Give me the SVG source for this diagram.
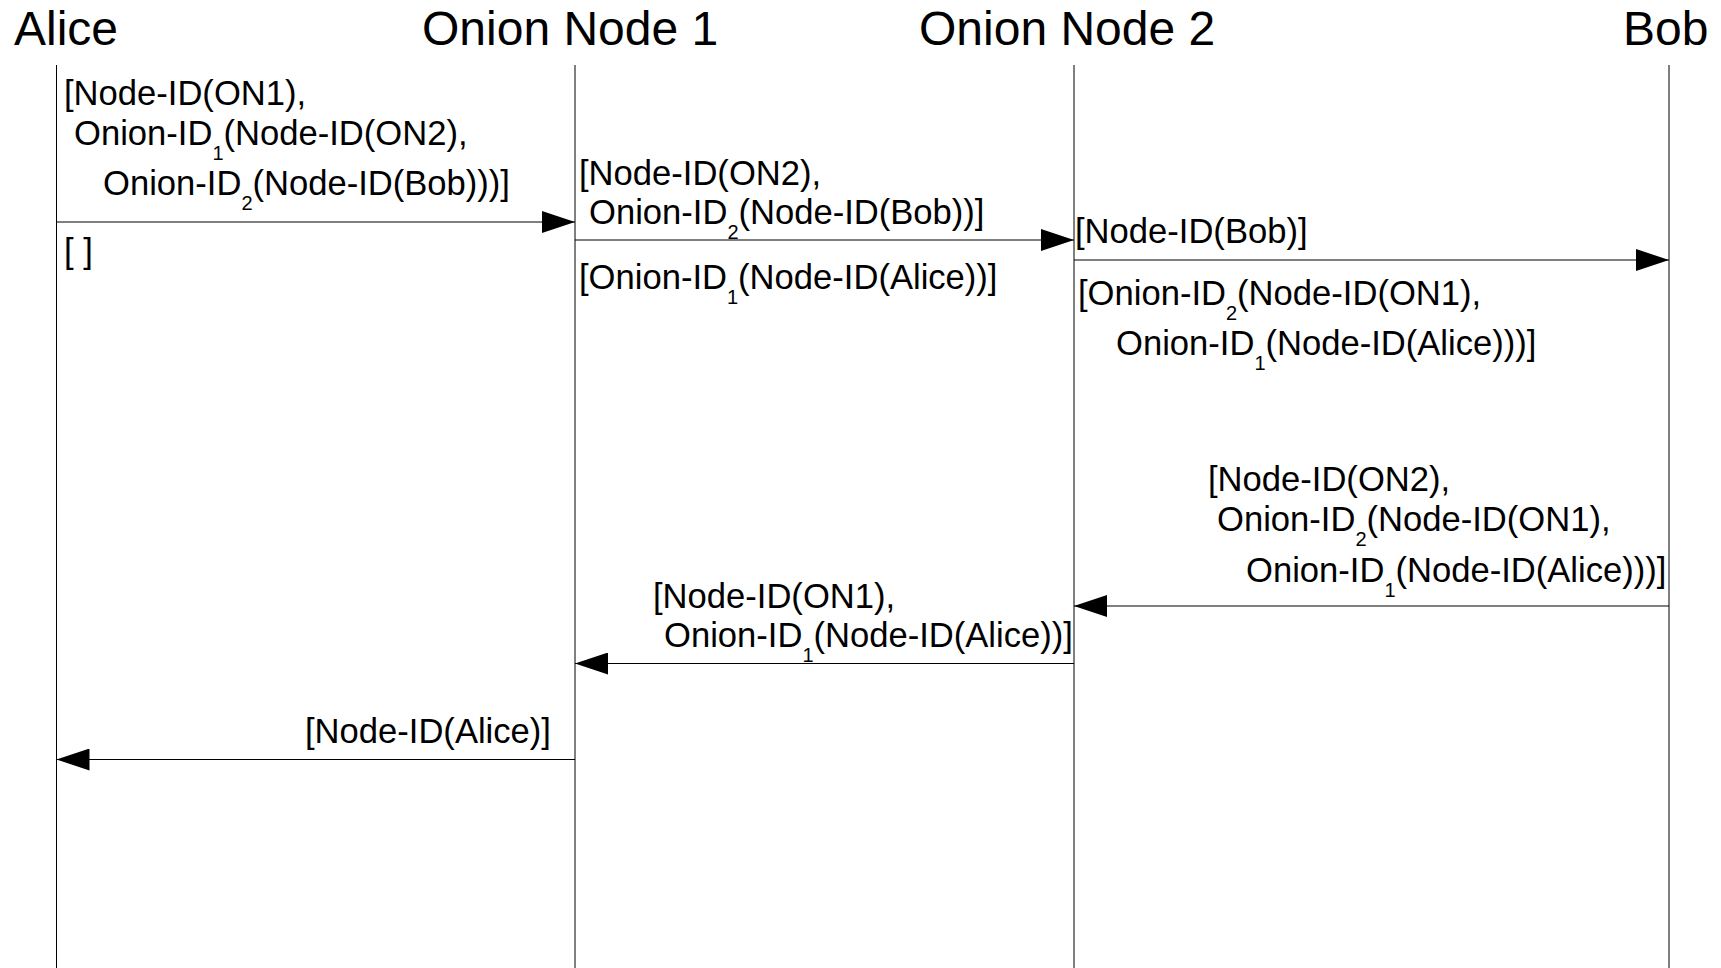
<svg xmlns="http://www.w3.org/2000/svg" width="1721" height="968" viewBox="0 0 1721 968">
<style>
.hdr{font-family:"Liberation Sans",Arial,sans-serif;font-size:48px;fill:#000}
.lbl{font-family:"Liberation Sans",Arial,sans-serif;font-size:34.6px;fill:#000}
.sub{font-size:20px}
.life{stroke:#000;stroke-width:1;fill:none}
.msg{stroke:#000;stroke-width:1;fill:none;marker-end:url(#ah)}
</style>
<defs>
<marker id="ah" markerUnits="userSpaceOnUse" markerWidth="34" markerHeight="22" refX="33" refY="11" orient="auto" viewBox="0 0 34 22">
<path d="M0,0 L33,11 L0,22 z" fill="#000"/>
</marker>
</defs>
<rect width="1721" height="968" fill="#fff"/>
<g id="alice">
<line class="life" x1="56.5" y1="65" x2="56.5" y2="968"/>
<text class="hdr" x="14" y="45">Alice</text>
</g>
<g id="onion-node-1">
<line class="life" x1="575" y1="65" x2="575" y2="968"/>
<text class="hdr" x="422" y="45">Onion Node 1</text>
</g>
<g id="onion-node-2">
<line class="life" x1="1074" y1="65" x2="1074" y2="968"/>
<text class="hdr" x="919" y="45">Onion Node 2</text>
</g>
<g id="bob">
<line class="life" x1="1669" y1="65" x2="1669" y2="968"/>
<text class="hdr" x="1623" y="45">Bob</text>
</g>
<g id="connectors">
<line class="msg" x1="56.5" y1="222" x2="575" y2="222"/>
<line class="msg" x1="575" y1="240" x2="1074" y2="240"/>
<line class="msg" x1="1074" y1="260" x2="1669" y2="260"/>
<line class="msg" x1="1669" y1="606" x2="1074" y2="606"/>
<line class="msg" x1="1074" y1="663.5" x2="575" y2="663.5"/>
<line class="msg" x1="575" y1="759.5" x2="56.5" y2="759.5"/>
</g>
<g id="labels">
<g id="m1">
<text class="lbl" x="64" y="105">[Node-ID(ON1),</text>
<text class="lbl" x="74" y="145">Onion-ID<tspan class="sub" dy="15">1</tspan><tspan dy="-15">(Node-ID(ON2),</tspan></text>
<text class="lbl" x="103" y="195">Onion-ID<tspan class="sub" dy="15">2</tspan><tspan dy="-15">(Node-ID(Bob)))]</tspan></text>
<text class="lbl" x="64" y="263">[ ]</text>
</g>
<g id="m2">
<text class="lbl" x="579" y="185">[Node-ID(ON2),</text>
<text class="lbl" x="589" y="224">Onion-ID<tspan class="sub" dy="15">2</tspan><tspan dy="-15">(Node-ID(Bob))]</tspan></text>
<text class="lbl" x="579" y="289">[Onion-ID<tspan class="sub" dy="15">1</tspan><tspan dy="-15">(Node-ID(Alice))]</tspan></text>
</g>
<g id="m3">
<text class="lbl" x="1075" y="243">[Node-ID(Bob)]</text>
<text class="lbl" x="1078" y="305">[Onion-ID<tspan class="sub" dy="15">2</tspan><tspan dy="-15">(Node-ID(ON1),</tspan></text>
<text class="lbl" x="1116" y="355">Onion-ID<tspan class="sub" dy="15">1</tspan><tspan dy="-15">(Node-ID(Alice)))]</tspan></text>
</g>
<g id="m4">
<text class="lbl" x="1208" y="491">[Node-ID(ON2),</text>
<text class="lbl" x="1217" y="531">Onion-ID<tspan class="sub" dy="15">2</tspan><tspan dy="-15">(Node-ID(ON1),</tspan></text>
<text class="lbl" x="1246" y="582">Onion-ID<tspan class="sub" dy="15">1</tspan><tspan dy="-15">(Node-ID(Alice)))]</tspan></text>
</g>
<g id="m5">
<text class="lbl" x="653" y="608">[Node-ID(ON1),</text>
<text class="lbl" x="664" y="647">Onion-ID<tspan class="sub" dy="15">1</tspan><tspan dy="-15">(Node-ID(Alice))]</tspan></text>
</g>
<g id="m6">
<text class="lbl" x="305" y="743">[Node-ID(Alice)]</text>
</g>
</g>
</svg>
